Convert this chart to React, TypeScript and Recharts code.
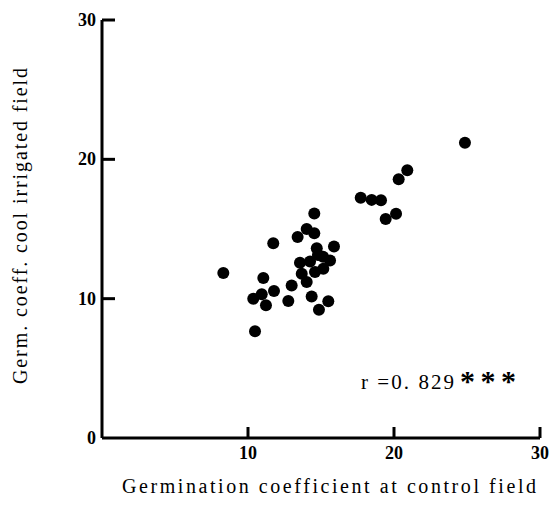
import React from "react";
import { ScatterChart, Scatter, XAxis, YAxis } from "recharts";

// germination coefficient at control field (x) vs cool irrigated field (y)
const controlField = [
  24.86, 20.91, 20.32, 17.72, 18.47, 19.11, 20.14, 19.43, 14.54, 14.02,
  14.54, 13.4, 11.73, 14.71, 15.89, 15.62, 13.56, 14.25, 15.16, 13.68,
  14.59, 8.31, 11.05, 14.02, 12.99, 11.78, 10.36, 10.94, 11.23, 12.76,
  14.36, 15.5, 14.86, 10.48, 15.14, 14.79,
];
const irrigatedField = [
  21.19, 19.21, 18.57, 17.24, 17.09, 17.07, 16.09, 15.71, 16.12, 15.0,
  14.69, 14.43, 13.98, 13.62, 13.74, 12.74, 12.57, 12.66, 12.14, 11.79,
  11.91, 11.84, 11.48, 11.19, 10.95, 10.55, 10.0, 10.31, 9.52, 9.84,
  10.16, 9.81, 9.21, 7.66, 13.0, 13.14,
];
const xTicks = [10, 20, 30];
const yTicks = [0, 10, 20, 30];

const points = controlField.map((x, i) => ({ x, y: irrigatedField[i] }));

const FONT = "'Liberation Serif', 'DejaVu Serif', serif";

const XTick = (props: any) => {
  const { x, y, payload } = props;
  return (
    <g>
      <line x1={x} y1={y} x2={x} y2={y - 11} stroke="#000" strokeWidth={3} />
      <text x={x} y={y + 21} textAnchor="middle" fontFamily={FONT} fontWeight="bold" fontSize={18} fill="#000">
        {payload.value}
      </text>
    </g>
  );
};

const YTick = (props: any) => {
  const { x, y, payload } = props;
  return (
    <g>
      {payload.value !== 0 && (
        <line x1={x} y1={y} x2={x + 13} y2={y} stroke="#000" strokeWidth={3} />
      )}
      <text x={x - 6} y={y + 6} textAnchor="end" fontFamily={FONT} fontWeight="bold" fontSize={18} fill="#000">
        {payload.value}
      </text>
    </g>
  );
};

const Dot = (props: any) => {
  const { cx, cy } = props;
  return <circle cx={cx} cy={cy} r={6} fill="#000" />;
};

export default function App() {
  return (
    <div style={{ position: "absolute", left: 0, top: 0, background: "#fff" }}>
      <ScatterChart
        width={558}
        height={507}
        margin={{ top: 20, right: 18, left: 101, bottom: 68 }}
      >
        <XAxis
          type="number"
          dataKey="x"
          domain={[0, 30]}
          ticks={xTicks}
          height={1}
          tickSize={0}
          tickMargin={0}
          tick={<XTick />}
          axisLine={{ stroke: "#000", strokeWidth: 3 }}
        />
        <YAxis
          type="number"
          dataKey="y"
          domain={[0, 30]}
          ticks={yTicks}
          width={1}
          tickSize={0}
          tickMargin={0}
          tick={<YTick />}
          axisLine={{ stroke: "#000", strokeWidth: 3 }}
        />
        <Scatter data={points} shape={<Dot />} isAnimationActive={false} />
        <text
          x={122}
          y={493}
          textLength={414}
          lengthAdjust="spacing"
          fontFamily={FONT}
          fontSize={20}
          fill="#000"
        >
          Germination coefficient at control field
        </text>
        <text
          x={0}
          y={0}
          transform="translate(27,384) rotate(-90)"
          textLength={316}
          lengthAdjust="spacing"
          fontFamily={FONT}
          fontSize={20}
          fill="#000"
        >
          Germ. coeff. cool irrigated field
        </text>
        <text x={361} y={389} fontFamily={FONT} fontSize={21} fill="#000" textLength={93} lengthAdjust="spacing">
          r =0. 829
        </text>
        <text x={460} y={391} fontFamily={FONT} fontSize={30} fontWeight="bold" fill="#000" textLength={56} lengthAdjust="spacing">
          ***
        </text>
      </ScatterChart>
    </div>
  );
}
